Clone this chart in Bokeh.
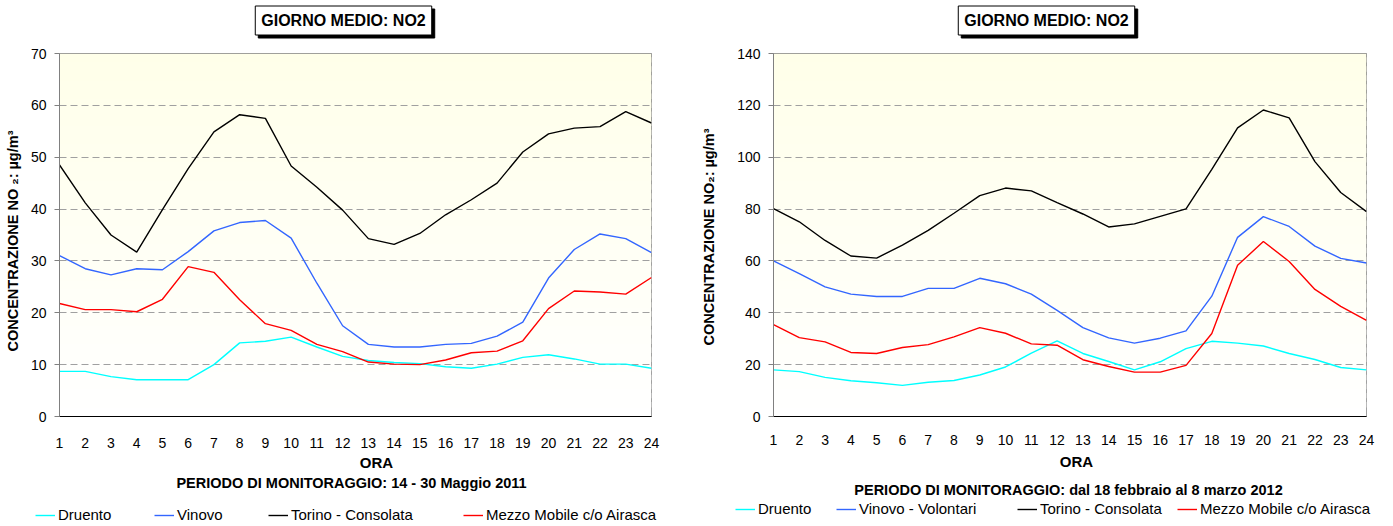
import numpy as np
from bokeh.plotting import figure
from bokeh.layouts import row, column
from bokeh.models import (FixedTicker, Label, Legend, LegendItem, BoxAnnotation, Range1d)
from bokeh.embed import file_html
from bokeh.resources import INLINE

hours = list(range(1, 25))

# ---- Left chart: 14 - 30 Maggio 2011 ----
druento_2011 = [8.7, 8.7, 7.7, 7.1, 7.1, 7.1, 10.0, 14.2, 14.5, 15.3, 13.4, 11.6,
                10.8, 10.4, 10.2, 9.6, 9.3, 10.1, 11.4, 11.9, 11.1, 10.1, 10.1, 9.3]
vinovo_2011 = [31.0, 28.5, 27.3, 28.5, 28.3, 31.8, 35.8, 37.4, 37.8, 34.4, 25.7, 17.5,
               13.9, 13.4, 13.4, 13.9, 14.1, 15.5, 18.2, 26.7, 32.2, 35.2, 34.3, 31.6]
torino_2011 = [48.5, 41.2, 35.0, 31.7, 39.9, 47.8, 54.9, 58.2, 57.5, 48.3, 44.2, 39.8,
               34.3, 33.2, 35.3, 38.9, 41.8, 45.0, 51.0, 54.5, 55.6, 55.9, 58.8, 56.6]
airasca_2011 = [21.8, 20.6, 20.6, 20.2, 22.6, 28.9, 27.8, 22.5, 17.9, 16.6, 13.9, 12.5,
                10.5, 10.1, 10.0, 10.9, 12.3, 12.6, 14.6, 20.8, 24.2, 24.0, 23.6, 26.8]

# ---- Right chart: 18 febbraio - 8 marzo 2012 ----
druento_2012 = [18.0, 17.3, 15.1, 13.8, 13.0, 12.0, 13.2, 13.9, 16.0, 19.1, 24.4, 29.2,
                24.3, 21.2, 18.0, 21.1, 26.2, 29.0, 28.3, 27.2, 24.3, 22.0, 18.9, 18.0]
vinovo_2012 = [60.0, 55.1, 50.0, 47.2, 46.3, 46.3, 49.4, 49.4, 53.3, 51.2, 47.2, 40.9,
               34.3, 30.3, 28.3, 30.2, 33.0, 46.4, 69.1, 77.1, 73.3, 65.7, 61.0, 59.2]
torino_2012 = [80.2, 75.1, 67.9, 61.9, 61.1, 66.1, 71.8, 78.4, 85.2, 88.1, 87.0, 82.5,
               78.1, 73.1, 74.3, 77.2, 80.1, 95.3, 111.3, 118.2, 115.2, 98.3, 86.4, 79.0]
airasca_2012 = [35.4, 30.4, 28.8, 24.7, 24.3, 26.6, 27.7, 30.7, 34.3, 32.1, 28.0, 27.5,
                21.9, 19.3, 17.1, 17.1, 19.7, 32.0, 58.3, 67.5, 59.8, 49.0, 42.5, 37.1]

names_2011 = ["Druento", "Vinovo", "Torino - Consolata", "Mezzo Mobile c/o Airasca"]
names_2012 = ["Druento", "Vinovo - Volontari", "Torino - Consolata", "Mezzo Mobile c/o Airasca"]
colors = ["#00FFFF", "#3366FF", "#000000", "#FF0000"]

FONT = "Liberation Sans"
W = 1393
TOP_H = 40
MAIN_H = 412
BOT_H = 526 - TOP_H - MAIN_H


def text_canvas(width, height):
    f = figure(width=width, height=height, output_backend="svg", toolbar_location=None,
               x_range=Range1d(0, width), y_range=Range1d(0, height),
               x_axis_type=None, y_axis_type=None, min_border=0)
    f.outline_line_color = None
    f.xgrid.visible = False
    f.ygrid.visible = False
    f.background_fill_color = "white"
    f.border_fill_color = "white"
    return f


def main_chart(width, bl, br, frame_h, ymax, ystep, series, ylabel, ylab_standoff, xlab_standoff):
    bt = 13
    bb = MAIN_H - bt - frame_h
    p = figure(width=width, height=MAIN_H, output_backend="svg", toolbar_location=None,
               x_range=Range1d(1, 24), y_range=Range1d(0, ymax),
               min_border_left=bl, min_border_right=br, min_border_top=bt, min_border_bottom=bb)
    p.background_fill_color = "white"
    p.border_fill_color = "white"
    p.outline_line_color = "#808080"

    n = 40
    for i in range(n):
        t = (i + 0.5) / n
        g = int(round(255 - 22 * t))
        col = "#%02x%02x%02x" % (255, 255, g)
        p.add_layout(BoxAnnotation(bottom=ymax * i / n, top=min(ymax, ymax * (i + 1.6) / n),
                                   fill_color=col, fill_alpha=1.0, line_alpha=0, level="image"))

    p.xaxis.ticker = FixedTicker(ticks=hours)
    p.xaxis.major_tick_out = 0
    p.xaxis.major_tick_in = 0
    p.xaxis.minor_tick_line_color = None
    p.xaxis.axis_line_color = "black"
    p.xaxis.major_label_standoff = xlab_standoff
    p.xaxis.major_label_text_font = FONT
    p.xaxis.major_label_text_font_size = "14px"
    p.xaxis.major_label_text_color = "black"

    p.yaxis.ticker = FixedTicker(ticks=list(range(0, ymax + 1, ystep)))
    p.yaxis.major_tick_out = 5
    p.yaxis.major_tick_in = 0
    p.yaxis.minor_tick_line_color = None
    p.yaxis.axis_line_color = "#808080"
    p.yaxis.major_tick_line_color = "#808080"
    p.yaxis.major_label_standoff = 8
    p.yaxis.major_label_text_font = FONT
    p.yaxis.major_label_text_font_size = "14px"
    p.yaxis.major_label_text_color = "black"
    p.yaxis.axis_label = ylabel
    p.yaxis.axis_label_standoff = ylab_standoff
    p.yaxis.axis_label_text_font = FONT
    p.yaxis.axis_label_text_font_style = "bold"
    p.yaxis.axis_label_text_font_size = "14.5px"
    p.yaxis.axis_label_text_color = "black"

    p.xgrid.visible = False
    p.ygrid.grid_line_color = "#a0a0a0"
    p.ygrid.grid_line_dash = "7 4"
    p.ygrid.grid_line_width = 1

    for vals, c in zip(series, colors):
        p.line(hours, vals, line_color=c, line_width=1.4)
    return p


series_2011 = [druento_2011, vinovo_2011, torino_2011, airasca_2011]
series_2012 = [druento_2012, vinovo_2012, torino_2012, airasca_2012]

# ---- top band: boxed titles (page coords: x, y from top) ----
top = text_canvas(W, TOP_H)
for tx in (343, 1046):
    ty = TOP_H - 20
    top.add_layout(Label(x=tx + 3, y=ty - 3, text="GIORNO MEDIO: NO2",
                         text_align="center", text_baseline="middle",
                         text_font=FONT, text_font_style="bold", text_font_size="16px",
                         text_color="black", background_fill_color="black",
                         border_line_color="black", padding=6))
    top.add_layout(Label(x=tx, y=ty, text="GIORNO MEDIO: NO2",
                         text_align="center", text_baseline="middle",
                         text_font=FONT, text_font_style="bold", text_font_size="16px",
                         text_color="black", background_fill_color="white",
                         border_line_color="black", padding=6))

# ---- main charts ----
left = main_chart(690, 59, 39, 363, 70, 10, series_2011,
                  "CONCENTRAZIONE NO   \u2082:  \u00b5g/m\u00b3", 7, 21)
right = main_chart(703, 83, 27, 365, 140, 20, series_2012,
                   "CONCENTRAZIONE NO\u2082:  \u00b5g/m\u00b3", 17, 18)

# ---- bottom band: ORA, period and legends (page coords) ----
bot = text_canvas(W, BOT_H)


def ytop(y_page):
    return 526 - y_page


texts = [("ORA", 376, 462, "15px"),
         ("PERIODO DI MONITORAGGIO: 14 - 30 Maggio 2011", 351, 482, "14.5px"),
         ("ORA", 1076, 461, "15px"),
         ("PERIODO DI MONITORAGGIO: dal 18 febbraio al 8 marzo 2012", 1068, 489, "14.5px")]
for txt, x, y, fs in texts:
    bot.add_layout(Label(x=x, y=ytop(y), text=txt, text_align="center", text_baseline="middle",
                         text_font=FONT, text_font_style="bold", text_font_size=fs,
                         text_color="black"))

legend_specs = [(series_2011, names_2011, [35, 154, 268, 463], 523),
                (series_2012, names_2012, [735, 836, 1017, 1177], 517)]
for series, names, xs, ybottom in legend_specs:
    for vals, c, name, lx in zip(series, colors, names, xs):
        r = bot.line(hours, vals, line_color=c, line_width=1.4)
        r.visible = False
        lg = Legend(items=[LegendItem(label=name, renderers=[r])], location=(lx, ytop(ybottom)),
                    orientation="horizontal", padding=0, margin=0, spacing=0,
                    border_line_alpha=0, background_fill_alpha=0,
                    glyph_width=20, glyph_height=16, label_height=16, label_standoff=3,
                    label_text_font=FONT, label_text_font_size="15px",
                    label_text_color="black", click_policy="none")
        bot.add_layout(lg)

layout = column(top, row(left, right, spacing=0), bot, spacing=0)
open("out.html", "w").write(file_html(layout, INLINE))
